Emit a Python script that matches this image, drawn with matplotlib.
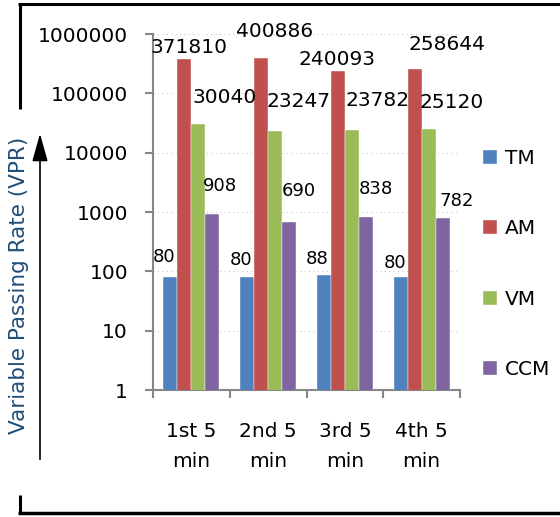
import numpy as np
import matplotlib
matplotlib.use("Agg")
import matplotlib.pyplot as plt
from matplotlib.lines import Line2D
from matplotlib.patches import FancyArrowPatch

categories = ["1st 5\nmin", "2nd 5\nmin", "3rd 5\nmin", "4th 5\nmin"]
series_names = ["TM", "AM", "VM", "CCM"]
tm = [80, 80, 88, 80]
am = [371810, 400886, 240093, 258644]
vm = [30040, 23247, 23782, 25120]
ccm = [908, 690, 838, 782]
series_values = [tm, am, vm, ccm]
y_ticks = [1, 10, 100, 1000, 10000, 100000, 1000000]

colors = ["#4F81BD", "#C0504D", "#9BBB59", "#8064A2"]
# label offsets in pixels (dx, dy) relative to bar top centre
label_offsets = [
    [(-6, 20), (-6, 17), (-7, 16), (-6, 14)],
    [(5, 12), (13, 26), (-1, 11), (32, 24)],
    [(26, 27), (23, 29), (26, 30), (23, 26)],
    [(8, 28), (10, 31), (10, 28), (14, 17)],
]
label_sizes = [13, 14.5, 14.5, 13]

plt.rcParams['font.family'] = ['DejaVu Sans']
fig = plt.figure(figsize=(5.6, 5.17), dpi=100)
ax = fig.add_axes([153/560, 1-390/517, (460-153)/560, (390-34)/517])

x = np.arange(len(categories))
w = 14/77
px2pt = 0.72
for i, (name, vals) in enumerate(zip(series_names, series_values)):
    pos = x + (i - 1.5) * w
    ax.bar(pos, vals, width=w, color=colors[i], label=name, zorder=3,
           edgecolor='white', linewidth=0.3)
    for j, (xp, v) in enumerate(zip(pos, vals)):
        dx, dy = label_offsets[i][j]
        ax.annotate(str(v), xy=(xp, v), xytext=(dx*px2pt, dy*px2pt),
                    textcoords='offset points', ha='center', va='center',
                    fontsize=label_sizes[i], color='black', zorder=5)

ax.set_yscale('log')
ax.set_ylim(1, 1000000)
ax.set_xlim(-0.5, len(categories) - 0.5)
ax.set_yticks(y_ticks)
ax.set_yticklabels([str(t) for t in y_ticks], fontsize=14.5)
ax.yaxis.set_minor_locator(matplotlib.ticker.NullLocator())
ax.set_xticks(x, minor=False)
ax.set_xticklabels(categories, fontsize=14.5, linespacing=1.75)
ax.tick_params(axis='x', length=0, pad=23)
# group boundary ticks
ax.set_xticks(np.arange(len(categories) + 1) - 0.5, minor=True)
ax.tick_params(axis='x', which='minor', length=6, color='#868686', width=1.5, direction='out')
ax.tick_params(axis='y', length=6, color='#868686', width=1.5, pad=12)
for s in ['top', 'right']:
    ax.spines[s].set_visible(False)
for s in ['left', 'bottom']:
    ax.spines[s].set_color('#868686')
    ax.spines[s].set_linewidth(1.5)
ax.grid(axis='y', which='major', linestyle=(0, (1, 3)), color='#C8C8C8', linewidth=0.8, zorder=0)
ax.set_axisbelow(True)

leg = fig.legend(loc='center left', bbox_to_anchor=(475/560, 1-264/517), frameon=False,
                 fontsize=14.5, handlelength=0.7, handleheight=0.7, handletextpad=0.4,
                 labelspacing=2.55, borderaxespad=0)

# frame lines
W, H = 560, 517
def fl(xs, ys, lw):
    fig.add_artist(Line2D([a/W for a in xs], [1-b/H for b in ys], color='black', lw=lw,
                          transform=fig.transFigure, solid_capstyle='butt'))
fl([18, 560], [4, 4], 2.2)
fl([19.5, 19.5], [3, 109], 2.2)
fl([18, 560], [512.5, 512.5], 2.5)
fl([19.5, 19.5], [495, 513.5], 2.2)

arrow = FancyArrowPatch((40/W, 1-462/H), (40/W, 1-131/H), transform=fig.transFigure,
                        arrowstyle='-|>,head_length=0.85,head_width=0.24', mutation_scale=20,
                        color='black', lw=1.2)
fig.add_artist(arrow)

fig.text(19/W, 1-285/H, "Variable Passing Rate (VPR)", rotation=90, ha='center', va='center',
         fontsize=15.5, color='#1F4E79')

fig.savefig("out.png", dpi=100)
